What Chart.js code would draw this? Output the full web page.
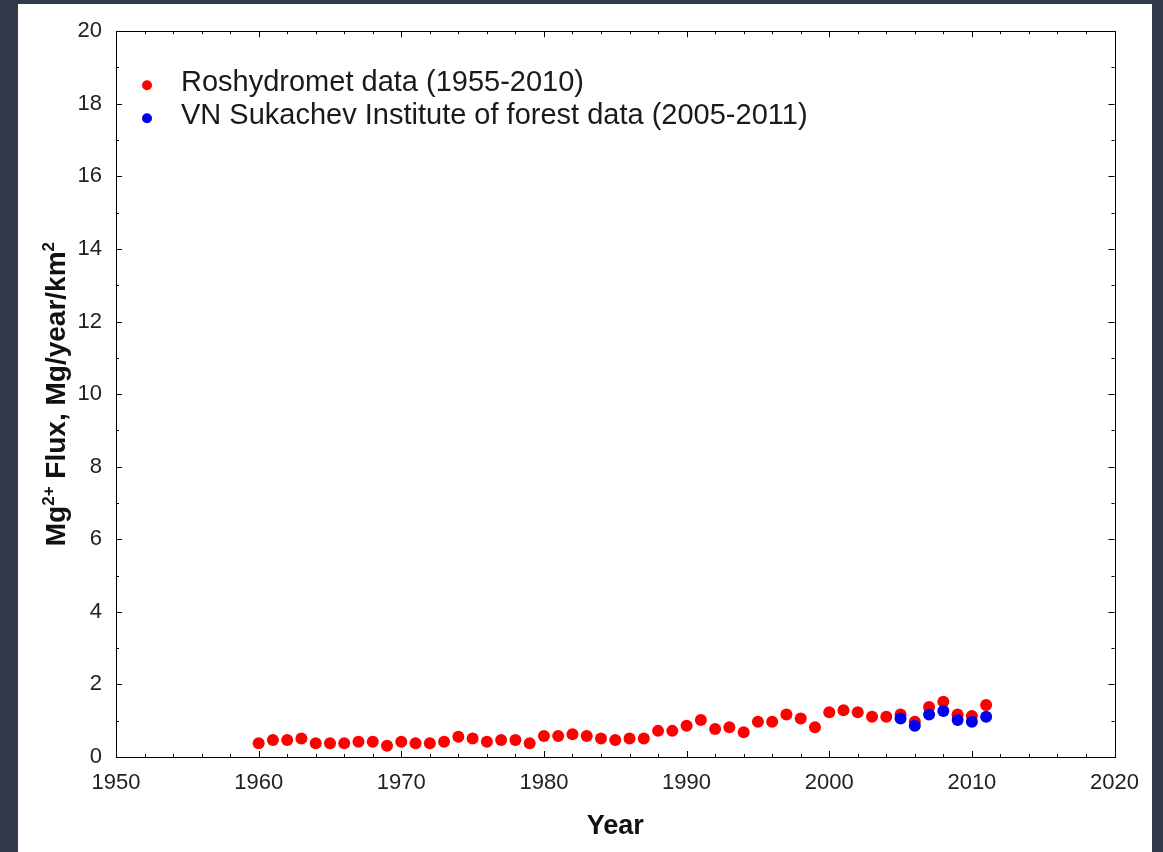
<!DOCTYPE html>
<html>
<head>
<meta charset="utf-8">
<script src="https://cdn.jsdelivr.net/npm/chart.js@4.4.1/dist/chart.umd.min.js"></script>
<style>
  html, body { margin: 0; padding: 0; background: #313a4a; }
  #panel { position: absolute; left: 18px; top: 4px; width: 1134px; height: 848px; background: #fff; }
</style>
</head>
<body>
<div id="panel"><canvas id="fluxChart"></canvas></div>
<script>
// data
const roshydrometYears = [1960, 1961, 1962, 1963, 1964, 1965, 1966, 1967, 1968, 1969,
  1970, 1971, 1972, 1973, 1974, 1975, 1976, 1977, 1978, 1979,
  1980, 1981, 1982, 1983, 1984, 1985, 1986, 1987, 1988, 1989,
  1990, 1991, 1992, 1993, 1994, 1995, 1996, 1997, 1998, 1999,
  2000, 2001, 2002, 2003, 2004, 2005, 2006, 2007, 2008, 2009, 2010, 2011];
const roshydrometFlux = [0.38, 0.47, 0.47, 0.51, 0.38, 0.38, 0.38, 0.42, 0.42, 0.31,
  0.42, 0.38, 0.38, 0.42, 0.56, 0.51, 0.42, 0.47, 0.47, 0.38,
  0.58, 0.58, 0.63, 0.58, 0.51, 0.47, 0.51, 0.51, 0.72, 0.72,
  0.86, 1.02, 0.77, 0.82, 0.68, 0.97, 0.97, 1.17, 1.06, 0.82,
  1.23, 1.29, 1.23, 1.11, 1.11, 1.17, 0.97, 1.38, 1.52, 1.17, 1.13, 1.43];

const sukachevYears = [2005, 2006, 2007, 2008, 2009, 2010, 2011];
const sukachevFlux = [1.06, 0.86, 1.17, 1.27, 1.02, 0.97, 1.11];

const seriesLabels = ['Roshydromet data (1955-2010)', 'VN Sukachev Institute of forest data (2005-2011)'];
const seriesColors = ['#ff0000', '#0000f0'];

const xTicks = [1950, 1960, 1970, 1980, 1990, 2000, 2010, 2020];
const yTicks = [0, 2, 4, 6, 8, 10, 12, 14, 16, 18, 20];

// y title pieces: [text, superscript?]
const yTitleParts = [['Mg', false], ['2+', true], [' Flux, Mg/year/km', false], ['2', true]];

const FONT = '"Liberation Sans", Arial, sans-serif';

function toPoints(xs, ys) {
  return xs.map((x, i) => ({ x: x, y: ys[i] }));
}

// box round the plot, inward ticks on all four sides, legend and the y title
const framePlugin = {
  id: 'frame',
  afterDraw(chart) {
    const ctx = chart.ctx;
    const area = chart.chartArea;
    const xs = chart.scales.x;
    const ys = chart.scales.y;
    ctx.save();
    ctx.strokeStyle = '#000';
    ctx.lineWidth = 1;
    ctx.strokeRect(Math.round(area.left) + 0.5, Math.round(area.top) + 0.5,
      Math.round(area.right - area.left), Math.round(area.bottom - area.top));

    ctx.beginPath();
    for (let v = 1950; v <= 2020; v += 2) {
      const px = Math.round(xs.getPixelForValue(v)) + 0.5;
      const len = v % 10 === 0 ? 6 : 3;
      ctx.moveTo(px, area.bottom); ctx.lineTo(px, area.bottom - len);
      ctx.moveTo(px, area.top); ctx.lineTo(px, area.top + len);
    }
    for (let v = 0; v <= 20; v += 1) {
      const py = Math.round(ys.getPixelForValue(v)) + 0.5;
      const len = v % 2 === 0 ? 6 : 3;
      ctx.moveTo(area.left, py); ctx.lineTo(area.left + len, py);
      ctx.moveTo(area.right, py); ctx.lineTo(area.right - len, py);
    }
    ctx.stroke();

    // legend
    ctx.font = '29px ' + FONT;
    ctx.textBaseline = 'middle';
    ctx.textAlign = 'left';
    chart.data.datasets.forEach((ds, i) => {
      const cy = area.top + 54 + i * 33;
      ctx.fillStyle = ds.backgroundColor;
      ctx.beginPath();
      ctx.arc(area.left + 31, cy, 5, 0, Math.PI * 2);
      ctx.fill();
      ctx.fillStyle = '#1a1a1a';
      ctx.fillText(ds.label, area.left + 65, cy - 2);
    });

    // y axis title with real superscripts
    const mainFont = 'bold 28px ' + FONT;
    const supFont = 'bold 17px ' + FONT;
    let total = 0;
    yTitleParts.forEach(p => {
      ctx.font = p[1] ? supFont : mainFont;
      total += ctx.measureText(p[0]).width;
    });
    ctx.translate(37, (area.top + area.bottom) / 2);
    ctx.rotate(-Math.PI / 2);
    ctx.fillStyle = '#111';
    ctx.textBaseline = 'alphabetic';
    let x = -total / 2;
    yTitleParts.forEach(p => {
      ctx.font = p[1] ? supFont : mainFont;
      ctx.fillText(p[0], x, p[1] ? -1 : 10);
      x += ctx.measureText(p[0]).width;
    });
    ctx.restore();
  }
};

const chart = new Chart(document.getElementById('fluxChart'), {
  type: 'scatter',
  data: {
    datasets: [
      {
        label: seriesLabels[0],
        data: toPoints(roshydrometYears, roshydrometFlux),
        backgroundColor: seriesColors[0],
        borderColor: seriesColors[0],
        pointRadius: 6,
        borderWidth: 0,
        order: 1
      },
      {
        label: seriesLabels[1],
        data: toPoints(sukachevYears, sukachevFlux),
        backgroundColor: seriesColors[1],
        borderColor: seriesColors[1],
        pointRadius: 6,
        borderWidth: 0,
        order: 0
      }
    ]
  },
  options: {
    responsive: true,
    maintainAspectRatio: false,
    animation: false,
    layout: { padding: { top: 21, right: 31, left: 0, bottom: 0 } },
    plugins: {
      legend: { display: false },
      tooltip: { enabled: false }
    },
    scales: {
      x: {
        type: 'linear',
        min: 1950,
        max: 2020,
        afterBuildTicks: (scale) => { scale.ticks = xTicks.map(v => ({ value: v })); },
        afterFit: (scale) => { scale.height = 95; },
        grid: { display: false, drawTicks: false },
        border: { display: false },
        ticks: {
          padding: 13,
          color: '#222',
          font: { family: FONT, size: 22 },
          maxRotation: 0,
          callback: (v) => String(v)
        },
        title: {
          display: true,
          text: 'Year',
          color: '#111',
          font: { family: FONT, size: 27, weight: 'bold' },
          padding: { top: 0, bottom: 9 }
        }
      },
      y: {
        min: 0,
        max: 20,
        afterBuildTicks: (scale) => { scale.ticks = yTicks.map(v => ({ value: v })); },
        afterFit: (scale) => { scale.width = 98; },
        grid: { display: false, drawTicks: false },
        border: { display: false },
        ticks: {
          padding: 14,
          color: '#222',
          font: { family: FONT, size: 22 },
          callback: (v) => String(v)
        },
        title: { display: false }
      }
    }
  },
  plugins: [framePlugin]
});
</script>
</body>
</html>
